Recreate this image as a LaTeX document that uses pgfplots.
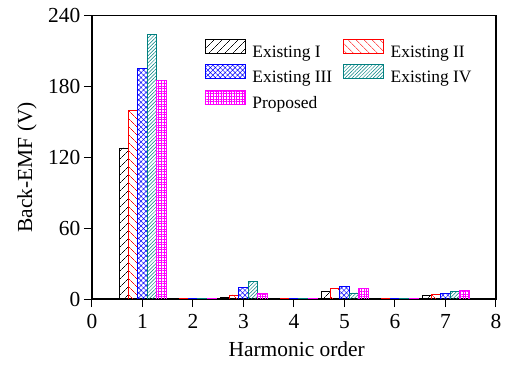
\documentclass[border=0pt]{standalone}
\usepackage{fontspec}
\setmainfont{Liberation Serif}
\usepackage{pgfplots}
\pgfplotsset{compat=1.18}
\usetikzlibrary{patterns,patterns.meta}
\definecolor{tealc}{RGB}{0,128,128}
\definecolor{magc}{RGB}{255,0,255}

\pgfplotsset{
  mybar/.style={ybar, bar width=0.185, line width=0.7bp,
    legend image code/.code={\draw[##1] (0bp,-1bp) rectangle (40bp,13bp);}},
}

\begin{document}
\begin{tikzpicture}
\begin{axis}[
  scale only axis, width=404bp, height=283.3bp,
  xmin=0, xmax=8, ymin=0, ymax=240,
  xtick={0,...,8}, ytick={0,60,...,240},
  tick pos=left,
  tick align=outside, major tick length=8bp,
  axis line style={line width=1.1bp},
  tick style={line width=1bp, black},
  /pgf/number format/assume math mode=true,
  ticklabel style={font=\fontsize{21.5}{25}\selectfont},
  yticklabel style={inner sep=0pt, xshift=-3.5bp},
  xticklabel style={inner sep=0pt, yshift=-7bp},
  xlabel={Harmonic order},
  xlabel style={at={(axis description cs:0.5067,-0.2037)}, anchor=base, font=\fontsize{21.5}{25}\selectfont},
  ylabel={Back-EMF (V)},
  ylabel style={at={(axis description cs:-0.1485,0.4647)}, anchor=base, font=\fontsize{21.5}{25}\selectfont},
  legend columns=2,
  legend cell align=left,
  legend style={at={(axis description cs:0.2797,0.9178)}, anchor=north west,
    draw=none, fill=none, inner sep=0pt, outer sep=0pt,
    column sep=6.7bp, row sep=5.5bp,
    nodes={inner sep=0pt, font=\fontsize{17.5}{21}\selectfont},
    /tikz/every even column/.append style={column sep=11bp}},
]
\addplot[mybar, bar shift=-0.37, draw=black,
  pattern={Lines[angle=45,distance=6bp,line width=0.6bp]}, pattern color=black]
  coordinates {(1,128) (2,0.2) (3,1.5) (4,0.2) (5,6.2) (6,0.2) (7,3.1)};
\addlegendentry{Existing I}
\addplot[mybar, bar shift=-0.185, draw=red,
  pattern={Lines[angle=-45,distance=6bp,line width=0.6bp]}, pattern color=red]
  coordinates {(1,160) (2,0.3) (3,3.5) (4,0.3) (5,8.8) (6,0.3) (7,3.9)};
\addlegendentry{Existing II}
\addplot[mybar, bar shift=0, draw=blue,
  pattern={Hatch[angle=45,distance=3.5bp,line width=0.5bp]}, pattern color=blue]
  coordinates {(1,195) (2,0.3) (3,10) (4,0.3) (5,11) (6,0.3) (7,4.8)};
\addlegendentry{Existing III}
\addplot[mybar, bar shift=0.185, draw=tealc,
  pattern={Lines[angle=45,distance=2.5bp,line width=0.5bp]}, pattern color=tealc]
  coordinates {(1,224) (2,0.4) (3,15) (4,0.4) (5,5.1) (6,0.4) (7,6.2)};
\addlegendentry{Existing IV}
\addplot[mybar, bar shift=0.37, draw=magc,
  pattern={Hatch[angle=0,distance=2.6bp,line width=0.5bp]}, pattern color=magc]
  coordinates {(1,185) (2,0.3) (3,5) (4,0.3) (5,8.8) (6,0.3) (7,7.1)};
\addlegendentry{Proposed}
\node[anchor=base, font=\fontsize{21.5}{25}\selectfont] at (axis description cs:0.470,-0.307) {(b)};
\end{axis}
\pgfresetboundingbox
\useasboundingbox (-92bp,-78bp) rectangle (416bp,299bp);
\end{tikzpicture}
\end{document}
